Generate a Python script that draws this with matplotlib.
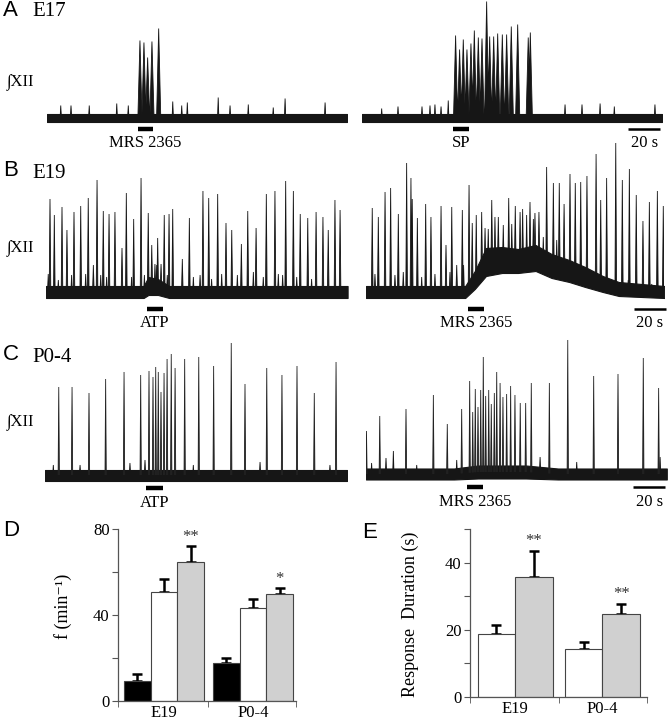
import numpy as np
import matplotlib.pyplot as plt

plt.rcParams['font.family'] = ['Liberation Serif', 'DejaVu Serif']

W, H = 670, 720  # figure size in px (dpi 100)

# ---------------- traces (time in s, peak height in a.u.) ----------------
# A, E17: MRS 2365 (left) and SP (right)
a1_burst_t = [58.1, 60.6, 62.9, 65.6, 69.8]
a1_burst_h = [77, 75, 60, 76, 89]
a1_small_t = [8.6, 15, 26.4, 43.6, 50.8, 78.6, 84.2, 87.7, 107, 114.4, 125.8, 141.4, 148.8, 173.8]
a1_small_h = [12, 12, 12, 14, 12, 16, 12, 15, 20, 12, 13, 10, 19, 15]

a2_burst_t = [58.5, 61, 63.3, 65.6, 68.1, 70.2, 72.7, 75, 77.9, 79.8, 82.3, 84.8,
              87.7, 90.4, 93.3, 97.3, 103.9, 105.2]
a2_burst_h = [82, 68, 78, 68, 74, 87, 80, 79, 116, 81, 81, 84, 83, 83, 91, 93, 80, 85]
a2_small_t = [12.3, 22.5, 37.5, 42.5, 45.6, 49.4, 53.9, 126.9, 137.5, 148.8, 157.7, 183.1]
a2_small_h = [9, 11, 11, 12, 13, 11, 17, 13, 13, 14, 11, 13]

# B, E19: ATP (left) and MRS 2365 (right)
b1_t = [2.5, 5.2, 10, 13.1, 17.5, 21.7, 26.4, 29.6, 31.9, 35.8, 39.4, 43.1, 47.5, 50.2,
        54.8, 59.4, 63.9, 66.1, 69.8, 71.9, 73.9, 76.9, 79.2, 85.2, 89.6, 98.1, 101.7,
        107.3, 112.5, 116.1, 122.1, 126.1, 131.3, 137.7, 143.1, 149.8, 154.6, 158.9,
        163.6, 168.8, 173.1, 176.4, 180.6, 183.8]
b1_h = [93, 77, 85, 62, 80, 86, 94, 27, 112, 81, 78, 80, 44, 99, 73, 114, 79, 47, 54, 28,
        77, 78, 83, 33, 74, 101, 94, 98, 69, 62, 48, 81, 64, 98, 101, 111, 101, 78, 74,
        80, 75, 62, 92, 82]
b1_small_t = [1.4, 7.7, 16, 24.8, 34.2, 37.9, 53.5, 61.5, 68.1, 69.2, 75.8, 92.1, 96.3,
              103.5, 109.8, 119.6, 129.6, 135.8, 145.2, 147.9, 156.7, 166]
b1_small_h = [18, 12, 17, 18, 17, 15, 15, 17, 28, 27, 17, 15, 17, 13, 18, 17, 20, 15, 18,
              17, 15, 13]
b1_band_t = [0, 61, 64, 70, 77, 188.5]
b1_band_level = [0, 0, 6, 5, 0, 0]
b1_band_half = [6, 6, 9, 8, 6, 6]

b2_t = [3.9, 7.7, 11.9, 15.4, 20.2, 25.4, 28.1, 28.9, 32.1, 37.3, 40.6, 46.9, 50, 53.6,
        56.7, 60.2, 64.4, 66.4, 72.3, 78.6, 82.7, 89.2, 93.3, 97.9, 102.5, 105.6, 108.1,
        112.9, 117.1, 120.8, 123.8, 127.5, 130.8, 134.2, 138.1, 143.8, 146.7, 150.4,
        156.1, 160.2, 164.6, 168.9, 173.1, 177.1, 182.1, 185.8]
b2_h = [84, 75, 100, 104, 78, 129, 114, 93, 74, 88, 75, 86, 47, 85, 27, 82, 107, 69, 80,
        92, 75, 94, 86, 83, 90, 79, 80, 125, 109, 109, 88, 118, 109, 110, 116, 138, 92,
        114, 149, 112, 123, 97, 71, 90, 101, 86]
b2_small_t = [5.6, 18.1, 23.3, 34.8, 43.1, 52.5, 61, 68.9, 74.4, 76.4, 80.6, 85.8, 91.1,
              96.3, 100.4, 104.6, 110.8, 119.2, 163.9, 178.6]
b2_small_h = [18, 17, 20, 15, 18, 20, 27, 77, 64, 63, 75, 67, 68, 80, 77, 73, 55, 52, 12, 8]
b2_band_t = [0, 62, 68, 75, 85, 95, 106, 116, 127, 137, 148, 158, 186.5]
b2_band_level = [0, 0, 12, 30, 32, 31, 34, 26, 21, 15, 8, 3, 0]
b2_band_half = [6, 6, 9, 14, 13, 12, 13, 12, 11, 10, 8, 7, 6]

# C, P0-4: ATP (left) and MRS 2365 (right)
c1_t = [8.6, 16.9, 27.5, 37.9, 49.4, 59.8, 65, 67.5, 69.2, 70.8, 72.5, 74.4, 76.3, 78.9,
        81.3, 87.3, 96.1, 105.4, 116.4, 125, 138.6, 148.1, 157.5, 168.3, 181.9]
c1_h = [88, 88, 82, 96, 103, 100, 104, 98, 108, 103, 83, 102, 116, 121, 107, 116, 118,
        109, 132, 91, 107, 100, 109, 82, 113]
c1_small_t = [5.2, 21.9, 53.1, 62.5, 92.7, 134.4, 178.1]
c1_small_h = [10, 10, 12, 15, 10, 13, 10]

c2_t = [0.3, 8.6, 25, 42.1, 50.8, 59.8, 64.8, 66.7, 68.3, 70, 71.7, 73.3, 74.8, 76.7,
        78.3, 80.2, 81.7, 83.8, 85.6, 87.9, 90.4, 93.1, 96.4, 99.8, 103.3, 114.6, 126.1,
        142.3, 157.5, 173.3, 182.9]
c2_h = [43, 58, 65, 79, 50, 65, 93, 62, 85, 67, 84, 117, 78, 84, 70, 81, 102, 91, 77, 80,
        88, 79, 71, 71, 91, 91, 134, 98, 100, 116, 86]
c2_small_t = [3.5, 12.5, 17.1, 31.7, 56.7, 108.8, 131.7, 183.8]
c2_small_h = [11, 16, 23, 9, 14, 17, 12, 17]
c2_band_t = [0, 55, 70, 100, 120, 188]
c2_band_level = [0, 0, 2, 2, 0, 0]
c2_band_half = [5.5, 5.5, 6.5, 6.5, 5.5, 5.5]

# drug application windows (s)
stim_a = [(56.9, 66.3), (57.1, 66.9)]
stim_b = [(63.1, 73.1), (63.8, 73.6)]
stim_c = [(63.1, 73.5), (62.9, 73.3)]
stim_names = [["MRS 2365", "SP"], ["ATP", "MRS 2365"], ["ATP", "MRS 2365"]]

# ---------------- bar charts ----------------
groups = ["E19", "P0-4"]
f_ctrl = [9.3, 17.5]
f_ctrl_err = [3.1, 2.4]
f_first = [50.5, 43.2]
f_first_err = [6.2, 4.2]
f_second = [64.6, 49.7]
f_second_err = [7.4, 2.8]
f_stars = ["**", "*"]

dur_first = [18.7, 14.2]
dur_first_err = [2.8, 2.2]
dur_second = [35.7, 24.6]
dur_second_err = [7.9, 3.2]
dur_stars = ["**", "**"]


def fx(x):
    return x / W


def fy(y):
    return 1 - y / H


fig = plt.figure(figsize=(W / 100, H / 100), dpi=100)
ink = '#161616'


def trace_ax(x0, base, dur):
    # 1.6 px per s horizontally, 1 px per unit vertically
    ax = fig.add_axes([fx(x0), fy(base + 40), dur * 1.6 / W, 200 / H])
    ax.set_xlim(0, dur)
    ax.set_ylim(-40, 160)
    ax.axis('off')
    ax.patch.set_visible(False)
    return ax


def spikes(ax, t, h, w, level_t=None, level=None, color=ink):
    t = np.asarray(t, float)
    h = np.asarray(h, float)
    if level_t is None:
        base = np.zeros_like(t)
    else:
        base = np.interp(t, level_t, level)
    xs, ys = [], []
    for ti, hi, bi in zip(t, h, base):
        xs += [ti - w / 2, ti, ti + w / 2, np.nan]
        ys += [bi, max(hi, bi + 6), bi, np.nan]
    ax.fill(xs, ys, color=color, lw=0.6, ec=color)


def band(ax, bt, lev, half, color=ink):
    bt = np.asarray(bt, float)
    lev = np.asarray(lev, float)
    half = np.asarray(half, float)
    ax.fill_between(bt, lev - half, lev + half, color=color, lw=0.8, ec=color)


def stim(ax, win, name, y, ytxt, scale=None):
    ax.plot(win, [y, y], color='black', lw=3.2, solid_capstyle='butt', clip_on=False)
    ax.text(np.mean(win), ytxt, name, ha='center', va='center', fontsize=12)
    if scale is not None:
        ax.plot(scale, [y, y], color='black', lw=1.8, solid_capstyle='butt', clip_on=False)
        ax.text(np.mean(scale), ytxt, "20 s", ha='center', va='center', fontsize=12)


# ---- row A
ax = trace_ax(47, 117.5, 187.5)
band(ax, [0, 187.5], [0, 0], [4, 4])
spikes(ax, a1_small_t, a1_small_h, 0.8)
spikes(ax, a1_burst_t, a1_burst_h, 2.6)
stim(ax, stim_a[0], stim_names[0][0], -11, -25.5)

ax = trace_ax(362, 117.5, 187.5)
band(ax, [0, 187.5], [0, 0], [4, 4])
spikes(ax, a2_small_t, a2_small_h, 0.8)
spikes(ax, a2_burst_t, a2_burst_h, 2.6)
stim(ax, stim_a[1], stim_names[0][1], -11, -25.5, scale=(166.4, 186.4))

# ---- row B
ax = trace_ax(46, 292, 188.5)
band(ax, b1_band_t, b1_band_level, b1_band_half)
spikes(ax, b1_small_t, b1_small_h, 0.9, b1_band_t, b1_band_level)
spikes(ax, b1_t, b1_h, 1.0, b1_band_t, b1_band_level)
stim(ax, stim_b[0], stim_names[1][0], -16.5, -31)

ax = trace_ax(366, 292, 186.5)
band(ax, b2_band_t, b2_band_level, b2_band_half)
spikes(ax, b2_small_t, b2_small_h, 0.9, b2_band_t, b2_band_level)
spikes(ax, b2_t, b2_h, 1.0, b2_band_t, b2_band_level)
stim(ax, stim_b[1], stim_names[1][1], -17, -31, scale=(167.5, 187.5))

# ---- row C
ax = trace_ax(45, 475, 188.5)
band(ax, [0, 188.5], [0, 0], [5.5, 5.5])
spikes(ax, c1_small_t, c1_small_h, 0.8)
spikes(ax, c1_t, c1_h, 0.8, color='#222222')
stim(ax, stim_c[0], stim_names[2][0], -13.3, -27.7)

ax = trace_ax(366, 474, 188)
band(ax, c2_band_t, c2_band_level, c2_band_half)
spikes(ax, c2_small_t, c2_small_h, 0.8, c2_band_t, c2_band_level)
spikes(ax, c2_t, c2_h, 0.8, c2_band_t, c2_band_level, color='#222222')
stim(ax, stim_c[1], stim_names[2][1], -13, -27.7, scale=(167, 187))

# ---- panel labels
for letter, lx, ly in [("A", 3, 11), ("B", 3, 171), ("C", 3, 355), ("D", 3, 530), ("E", 362, 533)]:
    fig.text(fx(lx), fy(ly), letter, ha='left', va='center', fontsize=16,
             family=['Liberation Sans', 'DejaVu Sans'])
for age, ly in [("E17", 12), ("E19", 174), ("P0-4", 357)]:
    fig.text(fx(32), fy(ly), age, ha='left', va='center', fontsize=15)
for ly in [82, 248, 422]:
    fig.text(fx(7), fy(ly), "\u222bXII", ha='left', va='center', fontsize=12)


# ---- bar charts
def bar_axes(rect, ymax, ticks, labels, xmax, divider, ylabel, lab_xy):
    ax = fig.add_axes(rect)
    ax.set_ylim(0, ymax)
    ax.set_xlim(0, xmax)
    for s in ['top', 'right']:
        ax.spines[s].set_visible(False)
    for s in ['left', 'bottom']:
        ax.spines[s].set_color('#555555')
        ax.spines[s].set_linewidth(0.9)
    ax.set_yticks(ticks)
    ax.set_yticklabels(labels, fontsize=12)
    ax.tick_params(axis='y', direction='out', length=4, color='#555555', pad=2)
    ax.set_xticks([0, divider, xmax], minor=True)
    ax.tick_params(axis='x', which='minor', direction='out', length=4, color='#555555')
    ax.tick_params(axis='x', which='major', length=0, pad=3, labelsize=12)
    ax.set_ylabel(ylabel, fontsize=13)
    ax.yaxis.set_label_coords(*lab_xy)
    return ax


def err(ax, x, top, e):
    ax.errorbar(x, top, yerr=[np.zeros(len(top)), e], fmt='none', ecolor='black',
                elinewidth=1.8, capsize=3.5, capthick=1.8, zorder=1)


def star(ax, x, top, e, s):
    for xi, t, ei, si in zip(x, top, e, s):
        ax.annotate(si, (xi, t + ei), xytext=(0, 1), textcoords='offset points',
                    ha='center', va='bottom', fontsize=12, color='#333333')


# D
axd = bar_axes([fx(118), fy(701), 178 / W, 172 / H], 80, [0, 20, 40, 60, 80],
               ["0", "", "40", "", "80"], 6.67, 3.37, "f (min\u207b\u00b9)", (-0.26, 0.55))
gx = np.array([1.725, 5.06])
edge = '#444444'
axd.bar(gx - 1, f_ctrl, 1, color='black', ec=edge, lw=0.8, zorder=2)
axd.bar(gx, f_first, 1, color='white', ec=edge, lw=0.8, zorder=2)
axd.bar(gx + 1, f_second, 1, color='#d0d0d0', ec=edge, lw=0.8, zorder=2)
err(axd, gx - 1, f_ctrl, f_ctrl_err)
err(axd, gx, f_first, f_first_err)
err(axd, gx + 1, f_second, f_second_err)
star(axd, gx + 1, f_second, f_second_err, f_stars)
axd.set_xticks(gx)
axd.set_xticklabels(groups)

# E
axe = bar_axes([fx(470), fy(697), 177 / W, 168 / H], 50, [0, 10, 20, 30, 40, 50],
               ["0", "", "20", "", "40", ""], 4.72, 2.37, "Response  Duration (s)", (-0.29, 0.49))
gx = np.array([1.2, 3.53])
axe.bar(gx - 0.5, dur_first, 1, color='white', ec=edge, lw=0.8, zorder=2)
axe.bar(gx + 0.5, dur_second, 1, color='#d0d0d0', ec=edge, lw=0.8, zorder=2)
err(axe, gx - 0.5, dur_first, dur_first_err)
err(axe, gx + 0.5, dur_second, dur_second_err)
star(axe, gx + 0.5, dur_second, dur_second_err, dur_stars)
axe.set_xticks(gx)
axe.set_xticklabels(groups)

fig.savefig('out.png', dpi=100)
